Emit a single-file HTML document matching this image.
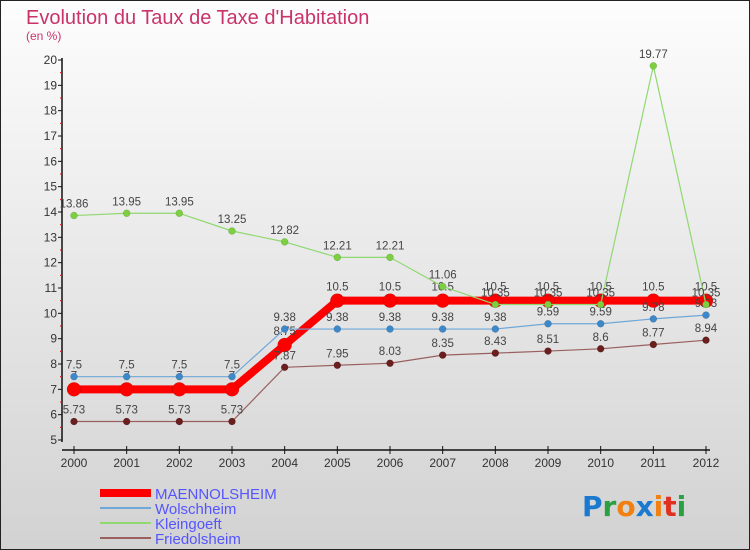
<!DOCTYPE html>
<html><head><meta charset="utf-8"><style>
body{margin:0;width:750px;height:550px;overflow:hidden}
svg{display:block;font-family:"Liberation Sans",sans-serif}
</style></head><body>
<svg id="c" width="750" height="550">
<defs><linearGradient id="bg" x1="0" y1="0" x2="0" y2="1"><stop offset="0" stop-color="#fdfdfd"/><stop offset="1" stop-color="#d2d2d2"/></linearGradient></defs>
<rect x="0.5" y="0.5" width="749" height="549" fill="url(#bg)" stroke="#222"/>
<text x="26" y="24" font-size="20" fill="#c8336a">Evolution du Taux de Taxe d'Habitation</text>
<text x="26" y="40" font-size="12" fill="#c8336a">(en %)</text>
<g id="axes"></g><g id="series"></g>
<g>
<rect x="100" y="489" width="51" height="8" fill="#f00"/>
<text x="155" y="499" font-size="15" fill="#5555ff">MAENNOLSHEIM</text>
<rect x="100" y="507" width="51" height="2" fill="#6fa8d8"/>
<text x="155" y="514" font-size="15" fill="#5555ff">Wolschheim</text>
<rect x="100" y="522" width="51" height="2" fill="#90d870"/>
<text x="155" y="529" font-size="15" fill="#5555ff">Kleingoeft</text>
<rect x="100" y="537" width="51" height="2" fill="#9a6060"/>
<text x="155" y="544" font-size="15" fill="#5555ff">Friedolsheim</text>
</g>
<g font-size="28" font-weight="bold" font-family="'DejaVu Sans',sans-serif">
<text x="582" y="516"><tspan fill="#1a7ad0">P</tspan><tspan fill="#2aa040">r</tspan><tspan fill="#f08010">o</tspan><tspan fill="#1a7ad0">x</tspan><tspan fill="#f08010">i</tspan><tspan fill="#e03020">t</tspan><tspan fill="#2aa040">i</tspan></text>
</g>
</svg>
<script>
const years=[2000,2001,2002,2003,2004,2005,2006,2007,2008,2009,2010,2011,2012];
const yTicks=[5,6,7,8,9,10,11,12,13,14,15,16,17,18,19,20];
const maennolsheim=[7,7,7,7,8.75,10.5,10.5,10.5,10.5,10.5,10.5,10.5,10.5];
const wolschheim=[7.5,7.5,7.5,7.5,9.38,9.38,9.38,9.38,9.38,9.59,9.59,9.78,9.93];
const kleingoeft=[13.86,13.95,13.95,13.25,12.82,12.21,12.21,11.06,10.35,10.35,10.35,19.77,10.35];
const friedolsheim=[5.73,5.73,5.73,5.73,7.87,7.95,8.03,8.35,8.43,8.51,8.6,8.77,8.94];
const NS="http://www.w3.org/2000/svg";
const xS=i=>74+i*(706-74)/12;
const yS=v=>440-(v-5)*(380/15);
function mk(t,a,p){const e=document.createElementNS(NS,t);for(const k in a)e.setAttribute(k,a[k]);p.appendChild(e);return e;}
const ax=document.getElementById('axes');
let yl=mk('line',{x1:62,y1:58,x2:62,y2:442,stroke:'#111','stroke-width':1.5},ax);


let xl=mk('line',{x1:62,y1:450,x2:710,y2:450,stroke:'#111','stroke-width':1.5},ax);


yTicks.forEach(v=>{
 mk('line',{x1:58,x2:62,y1:yS(v),y2:yS(v),stroke:'#111'},ax);
 if(v<20)mk('line',{x1:60,x2:62,y1:yS(v+0.5),y2:yS(v+0.5),stroke:'#f00'},ax);
 const t=mk('text',{x:57,y:yS(v)+4,'font-size':12,fill:'#333','text-anchor':'end'},ax);t.textContent=v;
 
 
});
years.forEach((y,i)=>{
 mk('line',{x1:xS(i),x2:xS(i),y1:446,y2:454,stroke:'#111'},ax);
 const t=mk('text',{x:xS(i),y:467,'font-size':12,fill:'#333','text-anchor':'middle'},ax);t.textContent=y;
 
 
});
const sg=document.getElementById('series');
function draw(name,vals,line,dot,w,r,lab,dy){
 const g=mk('g',{},sg);
 
 
 mk('polyline',{points:vals.map((v,i)=>xS(i)+','+yS(v)).join(' '),fill:'none',stroke:line,'stroke-width':w,'stroke-linejoin':'round'},g);
 vals.forEach((v,i)=>{
  const c=mk('circle',{cx:xS(i),cy:yS(v),r:r,fill:dot,stroke:'rgba(0,0,0,0.2)','stroke-width':0.5},g);
  
  
  const t=mk('text',{x:xS(i),y:yS(v)+dy,'font-size':11.5,fill:'#444','text-anchor':'middle'},g);t.textContent=lab(v);
  
  
 });
}
const f=v=>String(v);
draw('maennolsheim',maennolsheim,'#f00','#f00',8,7,f,-10);
draw('friedolsheim',friedolsheim,'#9a6060','#6a1e1e',1.2,3.5,f,-8);
draw('wolschheim',wolschheim,'#6fa8d8','#3d88c8',1.2,3.5,f,-8);
draw('kleingoeft',kleingoeft,'#90d870','#7cd040',1.2,3.5,f,-8);
</script>
</body></html>
